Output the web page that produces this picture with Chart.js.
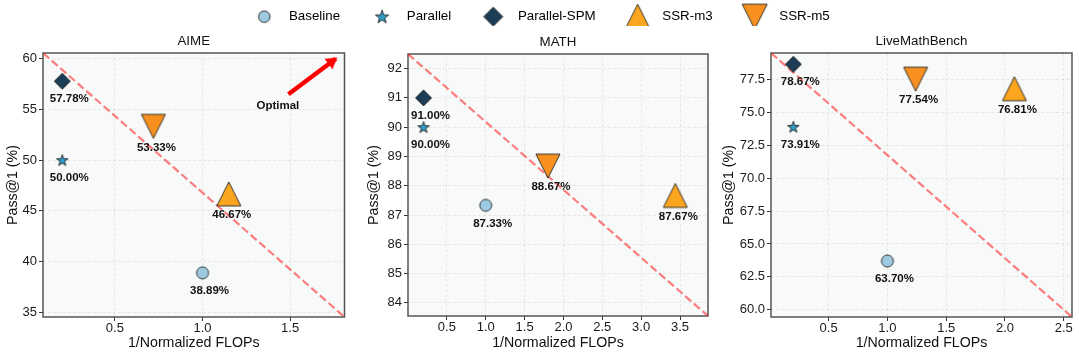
<!DOCTYPE html>
<html>
<head>
<meta charset="utf-8">
<script src="https://cdn.jsdelivr.net/npm/chart.js@4.4.1/dist/chart.umd.min.js"></script>
<style>
html, body { margin: 0; padding: 0; background: #fff; }
#wrap { position: relative; width: 1079px; height: 357px; overflow: hidden; }
#wrap canvas { position: absolute; }
</style>
</head>
<body>
<div id="wrap">
	<canvas id="legend" width="1079" height="80" style="left:0;top:-14px"></canvas>
	<canvas id="aime" width="355" height="329" style="left:0;top:28px"></canvas>
	<canvas id="math" width="360" height="329" style="left:360px;top:28px"></canvas>
	<canvas id="live" width="359" height="329" style="left:720px;top:28px"></canvas>
</div>
<script>
const methods = ['Baseline', 'Parallel', 'Parallel-SPM', 'SSR-m3', 'SSR-m5'];

// AIME
const aimeX = [1.0, 0.2, 0.2, 1.15, 0.72];
const aimeY = [38.89, 50.00, 57.78, 46.67, 53.33];
const aimeXRange = [0.09, 1.81];
const aimeYRange = [34.54, 60.56];
const aimeXTicks = [0.5, 1.0, 1.5];
const aimeYTicks = [35, 40, 45, 50, 55, 60];
const optimalFrom = [1.49, 56.5];
const optimalTo = [1.76, 60.0];
const optimalAt = [1.43, 55.4];

// MATH
const mathX = [1.0, 0.2, 0.2, 3.44, 1.80];
const mathY = [87.33, 90.00, 91.00, 87.67, 88.67];
const mathXRange = [0.0, 3.86];
const mathYRange = [83.55, 92.5];
const mathXTicks = [0.5, 1.0, 1.5, 2.0, 2.5, 3.0, 3.5];
const mathYTicks = [84, 85, 86, 87, 88, 89, 90, 91, 92];

// LiveMathBench
const liveX = [1.0, 0.2, 0.2, 2.08, 1.24];
const liveY = [63.70, 73.91, 78.67, 76.81, 77.54];
const liveXRange = [0.01, 2.57];
const liveYRange = [59.44, 79.53];
const liveXTicks = [0.5, 1.0, 1.5, 2.0, 2.5];
const liveYTicks = [60, 62.5, 65, 67.5, 70, 72.5, 75, 77.5];

const FONT = '"Liberation Sans", Arial, Helvetica, sans-serif';

// marker look per method: shape, fill, size in panels, size in legend
const markerStyles = [
	{ shape: 'circle',  fill: '#9ecae1', size: 12, legend: 11.5 },
	{ shape: 'star',    fill: '#2f9cc3', size: 12, legend: 14 },
	{ shape: 'diamond', fill: '#1c3d55', size: 16, legend: 19 },
	{ shape: 'up',      fill: '#fca620', size: 24, legend: 25 },
	{ shape: 'down',    fill: '#f7901e', size: 24, legend: 25 }
];

function markerImage(shape, size, fill) {
	const c = document.createElement('canvas');
	c.width = c.height = Math.ceil(size + 4);
	const g = c.getContext('2d');
	const m = c.width / 2, r = size / 2;
	g.beginPath();
	if (shape === 'circle') {
		g.arc(m, m, r, 0, Math.PI * 2);
	} else if (shape === 'diamond') {
		g.moveTo(m, m - r); g.lineTo(m + r, m); g.lineTo(m, m + r); g.lineTo(m - r, m);
	} else if (shape === 'up') {
		g.moveTo(m, m - r); g.lineTo(m + r, m + r); g.lineTo(m - r, m + r);
	} else if (shape === 'down') {
		g.moveTo(m, m + r); g.lineTo(m + r, m - r); g.lineTo(m - r, m - r);
	} else if (shape === 'star') {
		for (let k = 0; k < 10; k++) {
			const rr = k % 2 ? r * 0.4 : r;
			const a = -Math.PI / 2 + k * Math.PI / 5;
			g.lineTo(m + rr * Math.cos(a), m + 0.5 + rr * Math.sin(a));
		}
	}
	g.closePath();
	g.fillStyle = fill;
	g.fill();
	g.lineWidth = 0.9;
	g.strokeStyle = '#222';
	g.stroke();
	return c;
}

function arrowHead(len, half, color) {
	// tip sits a little past the image centre so it covers the end of the shaft
	const c = document.createElement('canvas');
	c.width = Math.ceil(half * 2 + 2);
	c.height = Math.ceil(len * 2 + 6);
	const g = c.getContext('2d');
	const cx = c.width / 2, cy = c.height / 2 - 2;
	g.beginPath();
	g.moveTo(cx, cy);
	g.lineTo(cx + half, cy + len);
	g.lineTo(cx - half, cy + len);
	g.closePath();
	g.fillStyle = color;
	g.fill();
	return c;
}

const panelMarkers = markerStyles.map(s => markerImage(s.shape, s.size, s.fill));
const legendMarkers = markerStyles.map(s => markerImage(s.shape, s.legend, s.fill));

const plotFrame = {
	id: 'plotFrame',
	beforeDraw(chart, args, opts) {
		const a = chart.chartArea;
		if (!a) return;
		const ctx = chart.ctx;
		ctx.save();
		ctx.fillStyle = '#f8fafa';
		ctx.fillRect(a.left, a.top, a.width, a.height);
		// panel title, centred over the plot area
		ctx.fillStyle = '#111';
		ctx.font = '13.33px ' + FONT;
		ctx.textAlign = 'center';
		ctx.textBaseline = 'middle';
		ctx.fillText(opts.title, (a.left + a.right) / 2, a.top - 12);
		ctx.restore();
	},
	beforeDatasetsDraw(chart) {
		const a = chart.chartArea;
		const ctx = chart.ctx;
		ctx.save();
		ctx.strokeStyle = '#555';
		ctx.lineWidth = 1.5;
		ctx.strokeRect(a.left, a.top, a.width, a.height);
		ctx.restore();
	}
};

const valueLabels = {
	id: 'valueLabels',
	afterDatasetsDraw(chart, args, opts) {
		const ctx = chart.ctx;
		ctx.save();
		ctx.font = 'bold 11.5px ' + FONT;
		ctx.fillStyle = '#111';
		ctx.textAlign = 'center';
		ctx.textBaseline = 'middle';
		chart.data.datasets.forEach((ds, i) => {
			if (!ds.valueLabel) return;
			chart.getDatasetMeta(i).data.forEach((pt, j) => {
				ctx.fillText(ds.data[j].y.toFixed(2) + '%', pt.x + ds.labelDx, pt.y + ds.labelDy);
			});
		});
		(opts.notes || []).forEach(n => {
			ctx.fillText(n.text, chart.scales.x.getPixelForValue(n.at[0]), chart.scales.y.getPixelForValue(n.at[1]));
		});
		ctx.restore();
	}
};

function makePanel(id, title, xs, ys, xRange, yRange, xTicks, yTicks, yDecimals, geo, extra) {
	const datasets = methods.map((m, i) => ({
		label: m,
		data: [{ x: xs[i], y: ys[i] }],
		pointStyle: panelMarkers[i],
		pointRadius: 6,
		valueLabel: true,
		labelDx: i >= 3 ? 3 : 7,
		labelDy: i >= 3 ? 21 : 18,
		order: 0
	}));
	// diagonal reference line across the axes
	datasets.push({
		label: 'diag',
		data: [{ x: xRange[0], y: yRange[1] }, { x: xRange[1], y: yRange[0] }],
		showLine: true,
		pointRadius: 0,
		borderColor: 'rgba(255, 0, 0, 0.5)',
		borderWidth: 2.2,
		borderDash: [8, 3.5],
		order: 2
	});
	(extra || []).forEach(d => datasets.push(d));

	return new Chart(document.getElementById(id), {
		type: 'scatter',
		data: { datasets: datasets },
		options: {
			responsive: false,
			animation: false,
			events: [],
			layout: { padding: { left: 0, right: geo.right, top: geo.top, bottom: 2 } },
			plugins: {
				legend: { display: false },
				tooltip: { enabled: false },
				plotFrame: { title: title },
				valueLabels: { notes: geo.notes || [] }
			},
			scales: {
				x: {
					type: 'linear', min: xRange[0], max: xRange[1],
					afterBuildTicks: s => { s.ticks = xTicks.map(v => ({ value: v })); },
					afterFit: s => { s.height = geo.xHeight; },
					ticks: {
						color: '#1a1a1a', font: { family: FONT, size: 13 }, padding: 0,
						maxRotation: 0, autoSkip: false,
						callback: v => v.toFixed(1)
					},
					grid: {
						color: 'rgba(176,176,176,0.3)', lineWidth: 0.8,
						tickColor: '#333', tickLength: 4, tickWidth: 1, tickBorderDash: []
					},
					border: { display: false, dash: [3, 2] },
					title: {
						display: true, text: '1/Normalized FLOPs', color: '#111',
						font: { family: FONT, size: 14.2 }, padding: { top: 0, bottom: 3.5 }
					}
				},
				y: {
					type: 'linear', min: yRange[0], max: yRange[1],
					afterBuildTicks: s => { s.ticks = yTicks.map(v => ({ value: v })); },
					afterFit: s => { s.width = geo.yWidth; },
					ticks: {
						color: '#1a1a1a', font: { family: FONT, size: 13 }, padding: 2,
						autoSkip: false,
						callback: v => v.toFixed(yDecimals)
					},
					grid: {
						color: 'rgba(176,176,176,0.3)', lineWidth: 0.8,
						tickColor: '#333', tickLength: 4, tickWidth: 1, tickBorderDash: []
					},
					border: { display: false, dash: [3, 2] },
					title: {
						display: true, text: 'Pass@1 (%)', color: '#111',
						font: { family: FONT, size: 14.2 }, padding: { top: geo.yTitlePad, bottom: 0 }
					}
				}
			}
		},
		plugins: [plotFrame, valueLabels]
	});
}

// "Optimal" arrow on the AIME panel
const optimalArrow = {
	label: 'optimal',
	data: [{ x: optimalFrom[0], y: optimalFrom[1] }, { x: optimalTo[0], y: optimalTo[1] }],
	showLine: true,
	borderColor: '#ff0000',
	borderWidth: 4.5,
	borderCapStyle: 'butt',
	pointRadius: [0, 6],
	pointStyle: arrowHead(11, 6.5, '#ff0000'),
	pointRotation: ctx => {
		const sx = ctx.chart.scales.x, sy = ctx.chart.scales.y;
		const dx = sx.getPixelForValue(optimalTo[0]) - sx.getPixelForValue(optimalFrom[0]);
		const dy = sy.getPixelForValue(optimalTo[1]) - sy.getPixelForValue(optimalFrom[1]);
		return Math.atan2(dx, -dy) * 180 / Math.PI;
	},
	order: 1
};

makePanel('aime', 'AIME', aimeX, aimeY, aimeXRange, aimeYRange, aimeXTicks, aimeYTicks, 0,
	{ right: 10, top: 25, yWidth: 43, xHeight: 38, yTitlePad: 4.2,
	  notes: [{ text: 'Optimal', at: optimalAt }] },
	[optimalArrow]);

makePanel('math', 'MATH', mathX, mathY, mathXRange, mathYRange, mathXTicks, mathYTicks, 0,
	{ right: 12, top: 26, yWidth: 48, xHeight: 39, yTitlePad: 5.6 });

makePanel('live', 'LiveMathBench', liveX, liveY, liveXRange, liveYRange, liveXTicks, liveYTicks, 1,
	{ right: 6, top: 25, yWidth: 51, xHeight: 38, yTitlePad: 0.2 });

// shared legend across the top
new Chart(document.getElementById('legend'), {
	type: 'scatter',
	data: { datasets: methods.map(m => ({ label: m, data: [] })) },
	options: {
		responsive: false,
		animation: false,
		events: [],
		layout: { padding: { right: 3 } },
		scales: { x: { display: false }, y: { display: false } },
		plugins: {
			tooltip: { enabled: false },
			legend: {
				display: true,
				position: 'top',
				labels: {
					usePointStyle: true,
					pointStyleWidth: 36,
					padding: 24,
					color: '#111',
					font: { family: FONT, size: 13.33 },
					generateLabels: () => methods.map((m, i) => ({
						text: m, pointStyle: legendMarkers[i], fillStyle: '#000',
						strokeStyle: '#000', lineWidth: 0, hidden: false, datasetIndex: i
					}))
				}
			}
		}
	}
});
</script>
</body>
</html>
